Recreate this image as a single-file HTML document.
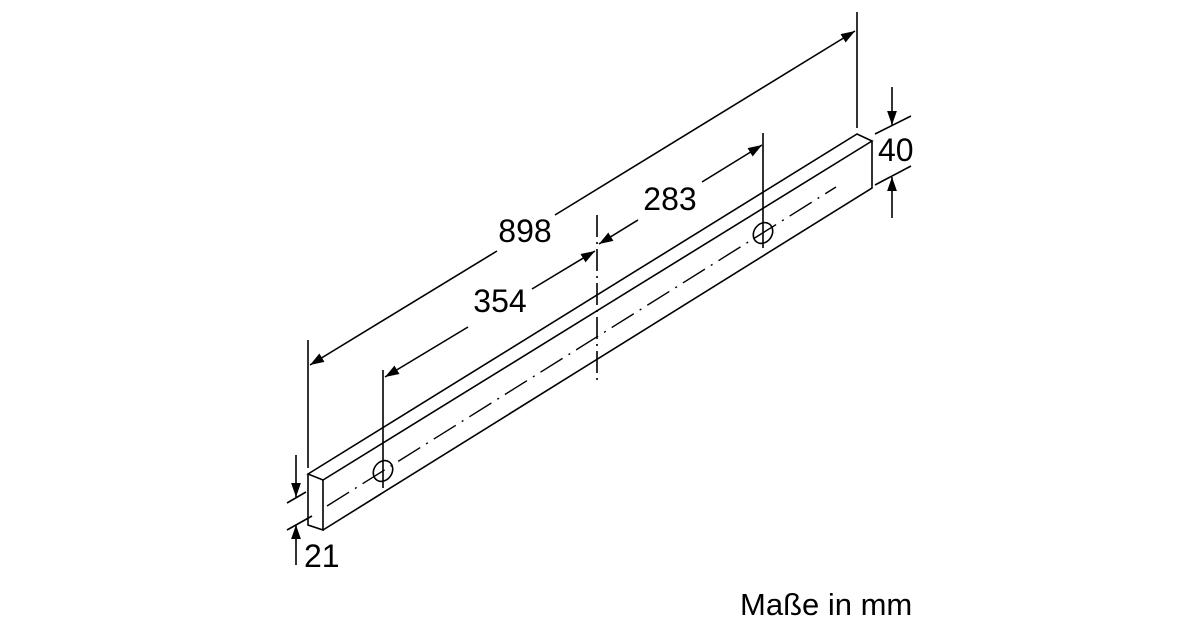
<!DOCTYPE html>
<html><head><style>
body{margin:0;background:#fff}
svg{display:block}
text{font-family:"Liberation Sans",sans-serif;fill:#000}
</style></head><body>
<svg width="1200" height="630" viewBox="0 0 1200 630" xmlns="http://www.w3.org/2000/svg">
<defs>
<marker id="a" viewBox="0 0 10 10" refX="10" refY="5" markerWidth="14" markerHeight="14" markerUnits="userSpaceOnUse" orient="auto-start-reverse"><path d="M0,1.5 L10,5 L0,8.5 z" fill="#000"/></marker>
</defs>
<g stroke="#000" stroke-width="1.6" fill="none">
<path d="M308,474 L857,134 L872,141 L323,480 Z"/>
<path d="M308,474 L308,525 L323,530 L323,480"/>
<path d="M323,530 L872,188 L872,141"/>
<line x1="327" y1="506" x2="836" y2="187" stroke-dasharray="26,7,2,7" stroke-width="1.4"/>
<ellipse cx="383" cy="471" rx="9" ry="11" transform="rotate(35 383 471)"/>
<ellipse cx="763" cy="233" rx="9" ry="11" transform="rotate(35 763 233)"/>
<line x1="308" y1="340" x2="308" y2="468"/>
<line x1="383" y1="370" x2="383" y2="488"/>
<line x1="597" y1="215" x2="597" y2="380" stroke-dasharray="22,5,2,5"/>
<line x1="763" y1="133" x2="763" y2="248"/>
<line x1="857" y1="12" x2="857" y2="128"/>
<line x1="310" y1="365" x2="497" y2="251" marker-start="url(#a)"/>
<line x1="555" y1="215" x2="855" y2="31" marker-end="url(#a)"/>
<line x1="385" y1="377" x2="468" y2="327" marker-start="url(#a)"/>
<line x1="532" y1="289" x2="595" y2="251" marker-end="url(#a)"/>
<line x1="599" y1="244" x2="638" y2="220" marker-start="url(#a)"/>
<line x1="702" y1="182" x2="762" y2="145" marker-end="url(#a)"/>
<line x1="875" y1="134" x2="911" y2="116"/>
<line x1="875" y1="185" x2="911" y2="166"/>
<line x1="892" y1="87" x2="892" y2="125" marker-end="url(#a)"/>
<line x1="892" y1="218" x2="892" y2="177" marker-end="url(#a)"/>
<line x1="287" y1="503" x2="306" y2="492"/>
<line x1="287" y1="530" x2="312" y2="516"/>
<line x1="296" y1="455" x2="296" y2="497" marker-end="url(#a)"/>
<line x1="296" y1="565" x2="296" y2="525" marker-end="url(#a)"/>
</g>
<g font-size="32">
<text x="525" y="242" text-anchor="middle">898</text>
<text x="500" y="312" text-anchor="middle">354</text>
<text x="670" y="210" text-anchor="middle">283</text>
<text x="878" y="161">40</text>
<text x="304" y="567">21</text>
<text x="740" y="615" font-size="31">Maße in mm</text>
</g>
</svg>
</body></html>
